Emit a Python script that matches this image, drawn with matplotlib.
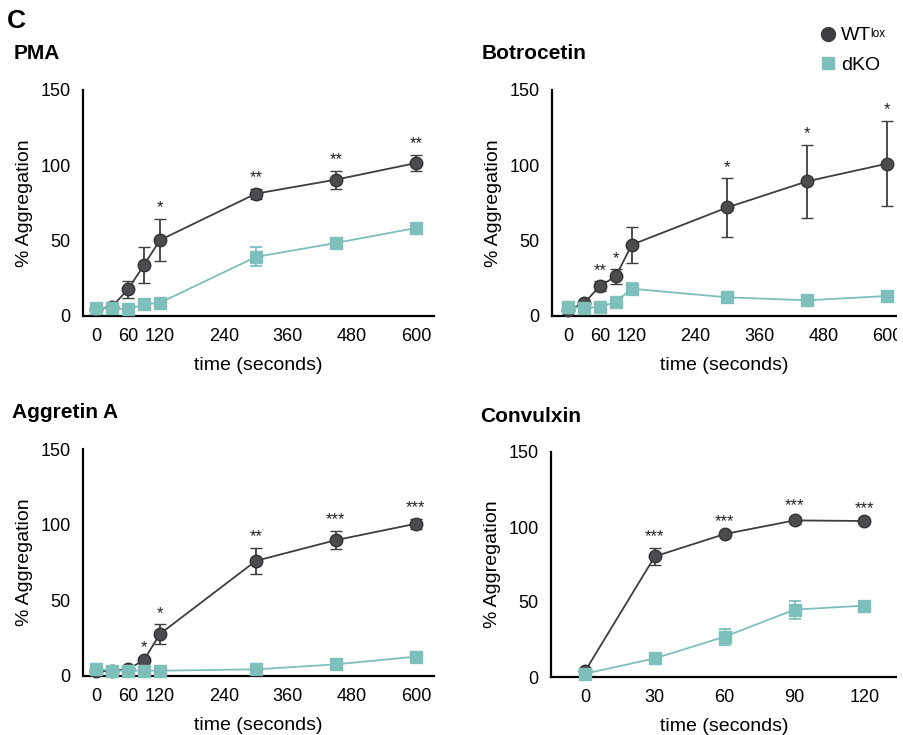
import matplotlib
matplotlib.use("Agg")
import matplotlib.pyplot as plt
from matplotlib.lines import Line2D
from matplotlib.patches import Rectangle

plt.rcParams['font.family'] = ['Liberation Sans', 'DejaVu Sans']

W, H = 904, 735
WT_COLOR = '#3e3e40'
KO_COLOR = '#7dbfbb'

# ---- data ----
t_long = [0, 30, 60, 90, 120, 300, 450, 600]
t_short = [0, 30, 60, 90, 120]
xticks_long = [0, 60, 120, 240, 360, 480, 600]
xticks_short = [0, 30, 60, 90, 120]

pma_wt = [4.4, 6.2, 17.7, 33.8, 50.4, 81.2, 90.5, 101.5]
pma_wt_err = [0.5, 0.5, 5.5, 11.8, 14.0, 3.4, 5.9, 5.4]
pma_ko = [5.1, 5.1, 4.4, 7.7, 8.8, 39.2, 48.5, 58.4]
pma_ko_err = [0.5, 0.5, 0.5, 0.8, 1.0, 6.3, 3.0, 2.0]
pma_stars = ['', '', '', '', '*', '**', '**', '**']

bot_wt = [4.0, 8.4, 19.9, 26.3, 47.3, 72.1, 89.4, 101.1]
bot_wt_err = [0.5, 0.8, 3.0, 4.8, 12.0, 19.4, 24.4, 28.3]
bot_ko = [5.8, 5.5, 5.8, 9.5, 18.1, 12.4, 10.4, 13.3]
bot_ko_err = [0.5, 0.5, 0.5, 1.0, 4.0, 1.0, 1.0, 1.0]
bot_stars = ['', '', '**', '*', '', '*', '*', '*']

agg_wt = [3.0, 3.5, 4.4, 10.6, 27.8, 76.1, 89.8, 100.6]
agg_wt_err = [0.3, 0.3, 0.5, 1.0, 6.4, 8.7, 6.2, 3.2]
agg_ko = [4.9, 3.5, 3.5, 3.5, 3.5, 4.4, 7.7, 12.8]
agg_ko_err = [0.5, 0.3, 0.3, 0.3, 0.3, 0.5, 0.8, 1.0]
agg_stars = ['', '', '', '*', '*', '**', '***', '***']

con_wt = [3.8, 80.4, 95.3, 104.4, 104.0]
con_wt_err = [0.5, 5.9, 1.0, 2.5, 1.0]
con_ko = [2.2, 12.4, 26.9, 44.9, 47.6]
con_ko_err = [0.5, 1.0, 5.3, 5.9, 1.5]
con_stars = ['', '***', '***', '***', '***']

panels = [
    ('PMA', (14, 59), (83, 434, 90, 316), (-24.4, 634), t_long, xticks_long,
     pma_wt, pma_wt_err, pma_ko, pma_ko_err, pma_stars),
    ('Botrocetin', (482, 59), (552, 897, 90, 316), (-30, 618.8), t_long, xticks_long,
     bot_wt, bot_wt_err, bot_ko, bot_ko_err, bot_stars),
    ('Aggretin A', (12, 418), (83, 434, 449, 676), (-24.4, 634), t_long, xticks_long,
     agg_wt, agg_wt_err, agg_ko, agg_ko_err, agg_stars),
    ('Convulxin', (480, 422), (551, 897, 452, 677), (-14.6, 134), t_short, xticks_short,
     con_wt, con_wt_err, con_ko, con_ko_err, con_stars),
]

fig = plt.figure(figsize=(W / 100, H / 100), dpi=100)

fig.text(7 / W, 1 - 28 / H, 'C', fontsize=19, fontweight='bold', va='baseline', ha='left')

for (title, tpos, box, xlim, t, xt, wt, wterr, ko, koerr, stars) in panels:
    l, r, tp, b = box
    ax = fig.add_axes([l / W, 1 - b / H, (r - l) / W, (b - tp) / H])
    ax.set_xlim(*xlim)
    ax.set_ylim(0, 150)
    for s in ['top', 'right']:
        ax.spines[s].set_visible(False)
    for s in ['left', 'bottom']:
        ax.spines[s].set_linewidth(1.6)
        ax.spines[s].set_color('black')
    ax.set_xticks(xt)
    ax.set_yticks([0, 50, 100, 150])
    ax.tick_params(length=0, labelsize=13, pad=8.5)
    ax.tick_params(axis='y', pad=9)
    ax.set_xlabel('time (seconds)', fontsize=14, labelpad=8.5)
    ax.set_ylabel('% Aggregation', fontsize=14, labelpad=5)

    ax.errorbar(t, wt, yerr=wterr, color=WT_COLOR, lw=1.3, elinewidth=1.3,
                capsize=4, capthick=1.3, marker='o', markersize=9,
                markerfacecolor='#4c4c4e', markeredgecolor='#333335',
                markeredgewidth=1.0, clip_on=False, zorder=3)
    ax.errorbar(t, ko, yerr=koerr, color=KO_COLOR, lw=1.3, elinewidth=1.3,
                capsize=4, capthick=1.3, marker='s', markersize=8.5,
                markerfacecolor=KO_COLOR, markeredgecolor=KO_COLOR,
                clip_on=False, zorder=4)
    for xi, yi, ei, st in zip(t, wt, wterr, stars):
        if st:
            top = yi + ei
            ax.annotate(st, (xi, top), xytext=(0, 2.5), textcoords='offset points',
                        ha='center', va='bottom', fontsize=12, color='#222222')
    fig.text(tpos[0] / W, 1 - tpos[1] / H, title, fontsize=15, fontweight='bold',
             ha='left', va='baseline')

# white strip: the reference image is cut at the right edge
fig.patches.append(Rectangle((897 / W, 0), (W - 897) / W, 1, transform=fig.transFigure,
                             facecolor='white', edgecolor='none', zorder=10))

handles = [
    Line2D([], [], linestyle='none', marker='o', markersize=10,
           markerfacecolor='#3e3e40', markeredgecolor='#3e3e40'),
    Line2D([], [], linestyle='none', marker='s', markersize=9,
           markerfacecolor=KO_COLOR, markeredgecolor=KO_COLOR),
]
leg = fig.legend(handles, ['WT', 'dKO'], loc='upper left',
                 bbox_to_anchor=(809 / W, 1 - 19 / H), frameon=False, fontsize=14,
                 handletextpad=0.05, labelspacing=0.6, handlelength=1.2, borderaxespad=0)

fig.canvas.draw()
renderer = fig.canvas.get_renderer()
bb = leg.get_texts()[0].get_window_extent(renderer)
fig.text((bb.x1 - 1) / W, (bb.y1 - 1) / H, 'lox', fontsize=8.5, ha='left', va='top')

fig.savefig('out.png', dpi=100)
